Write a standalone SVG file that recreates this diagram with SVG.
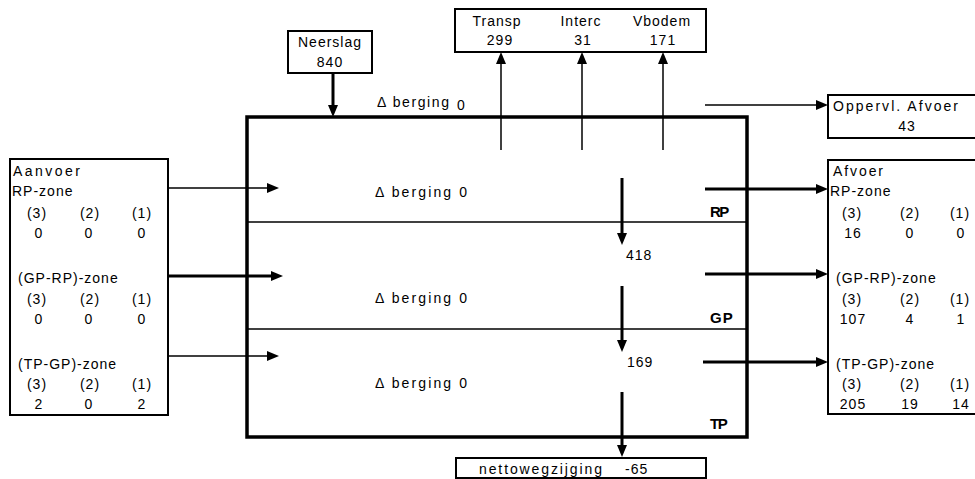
<svg xmlns="http://www.w3.org/2000/svg" width="975" height="479" viewBox="0 0 975 479">
<style>
text{font-family:"Liberation Sans",Arial,sans-serif;font-size:14px;fill:#000;letter-spacing:1px}
.m{text-anchor:middle}
.b{font-weight:bold;font-size:15px}
.box{fill:#fff;stroke:#000;stroke-width:2}
.main{fill:#fff;stroke:#000;stroke-width:3.5}
.div{stroke:#000;stroke-width:1.5}
.thin{stroke:#000;stroke-width:1.5;fill:none}
.thick{stroke:#000;stroke-width:3;fill:none}
</style>
<defs>
<marker id="ah" markerUnits="userSpaceOnUse" markerWidth="12" markerHeight="10" refX="4" refY="5" orient="auto">
<path d="M0,0 L12,5 L0,10 z" fill="#000"/>
</marker>
</defs>
<rect width="975" height="479" fill="#fff"/>

<g id="main">
<rect class="main" x="247" y="117" width="500" height="320"/>
<line class="div" x1="247" y1="222" x2="747" y2="222"/>
<line class="div" x1="247" y1="329" x2="747" y2="329"/>
<text x="375" y="197" textLength="93" lengthAdjust="spacing">Δ berging 0</text>
<text x="375" y="303" textLength="93" lengthAdjust="spacing">Δ berging 0</text>
<text x="375" y="388" textLength="93" lengthAdjust="spacing">Δ berging 0</text>
<text class="b" x="710" y="217" style="letter-spacing:-1.5px">RP</text>
<text class="b" x="710" y="323">GP</text>
<text class="b" x="710" y="429" style="letter-spacing:-1.5px">TP</text>
<text x="626" y="260">418</text>
<text x="627" y="367">169</text>
</g>

<g id="top-berging">
<text x="377" y="107" textLength="73" lengthAdjust="spacing">Δ berging</text>
<text x="457" y="110">0</text>
</g>

<g id="neerslag">
<rect class="box" x="288" y="31" width="84" height="42"/>
<text class="m" x="330" y="47">Neerslag</text>
<text class="m" x="330" y="67">840</text>
</g>

<g id="verdamping">
<rect class="box" x="455" y="9" width="251" height="43"/>
<text class="m" x="497" y="26">Transp</text>
<text class="m" x="500" y="45">299</text>
<text class="m" x="581" y="26">Interc</text>
<text class="m" x="583" y="45">31</text>
<text class="m" x="662" y="26">Vbodem</text>
<text class="m" x="663" y="45">171</text>
</g>

<g id="oppervl">
<rect class="box" x="828" y="95" width="160" height="43"/>
<text x="833" y="111" textLength="126" lengthAdjust="spacing">Oppervl. Afvoer</text>
<text class="m" x="907" y="131">43</text>
</g>

<g id="aanvoer">
<rect class="box" x="10" y="159" width="158" height="256"/>
<text x="13" y="176" textLength="68" lengthAdjust="spacing">Aanvoer</text>
<text x="12" y="196">RP-zone</text>
<text class="m" x="37" y="218">(3)</text><text class="m" x="90" y="218">(2)</text><text class="m" x="142" y="218">(1)</text>
<text class="m" x="39" y="238">0</text><text class="m" x="89" y="238">0</text><text class="m" x="142" y="238">0</text>
<text x="18" y="283">(GP-RP)-zone</text>
<text class="m" x="37" y="304">(3)</text><text class="m" x="90" y="304">(2)</text><text class="m" x="142" y="304">(1)</text>
<text class="m" x="39" y="324">0</text><text class="m" x="89" y="324">0</text><text class="m" x="142" y="324">0</text>
<text x="18" y="369">(TP-GP)-zone</text>
<text class="m" x="37" y="389">(3)</text><text class="m" x="90" y="389">(2)</text><text class="m" x="142" y="389">(1)</text>
<text class="m" x="39" y="409">2</text><text class="m" x="89" y="409">0</text><text class="m" x="142" y="409">2</text>
</g>

<g id="afvoer">
<rect class="box" x="828" y="160" width="160" height="254"/>
<text x="833" y="176" textLength="51" lengthAdjust="spacing">Afvoer</text>
<text x="830" y="196">RP-zone</text>
<text class="m" x="852" y="218">(3)</text><text class="m" x="910" y="218">(2)</text><text class="m" x="960" y="218">(1)</text>
<text class="m" x="853" y="238">16</text><text class="m" x="910" y="238">0</text><text class="m" x="961" y="238">0</text>
<text x="836" y="283">(GP-RP)-zone</text>
<text class="m" x="852" y="304">(3)</text><text class="m" x="910" y="304">(2)</text><text class="m" x="960" y="304">(1)</text>
<text class="m" x="853" y="324">107</text><text class="m" x="910" y="324">4</text><text class="m" x="961" y="324">1</text>
<text x="836" y="369">(TP-GP)-zone</text>
<text class="m" x="852" y="389">(3)</text><text class="m" x="910" y="389">(2)</text><text class="m" x="960" y="389">(1)</text>
<text class="m" x="853" y="409">205</text><text class="m" x="910" y="409">19</text><text class="m" x="961" y="409">14</text>
</g>

<g id="netto">
<rect class="box" x="456" y="458" width="250" height="20"/>
<text x="479" y="474" textLength="124" lengthAdjust="spacing">nettowegzijging</text>
<text x="625" y="474">-65</text>
</g>

<g id="connectors">
<line class="thick" x1="333" y1="73" x2="333" y2="109" marker-end="url(#ah)"/>
<line class="thin" x1="501" y1="150" x2="501" y2="60" marker-end="url(#ah)"/>
<line class="thin" x1="582" y1="150" x2="582" y2="60" marker-end="url(#ah)"/>
<line class="thin" x1="663" y1="150" x2="663" y2="60" marker-end="url(#ah)"/>
<line class="thin" x1="705" y1="105" x2="820" y2="105" marker-end="url(#ah)"/>
<line class="thin" x1="168" y1="188" x2="271" y2="188" marker-end="url(#ah)"/>
<line class="thick" x1="168" y1="276" x2="275" y2="276" marker-end="url(#ah)"/>
<line class="thin" x1="168" y1="356" x2="271" y2="356" marker-end="url(#ah)"/>
<line class="thick" x1="705" y1="189" x2="820" y2="189" marker-end="url(#ah)"/>
<line class="thick" x1="705" y1="274" x2="820" y2="274" marker-end="url(#ah)"/>
<line class="thick" x1="703" y1="362" x2="820" y2="362" marker-end="url(#ah)"/>
<line class="thick" x1="622" y1="178" x2="622" y2="237" marker-end="url(#ah)"/>
<line class="thick" x1="622" y1="286" x2="622" y2="344" marker-end="url(#ah)"/>
<line class="thick" x1="622" y1="392" x2="622" y2="449" marker-end="url(#ah)"/>
</g>
</svg>
